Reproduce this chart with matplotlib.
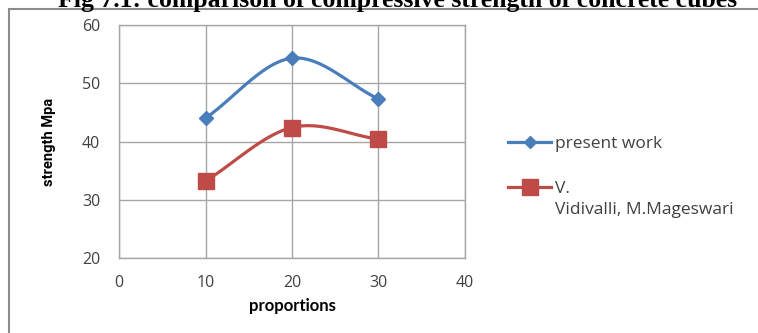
import matplotlib

matplotlib.use("Agg")
import matplotlib.pyplot as plt
import numpy as np
from matplotlib.lines import Line2D
from matplotlib.patches import Rectangle

proportions = [10, 20, 30]
present_work = [44.0, 54.3, 47.3]
vidivalli = [33.2, 42.4, 40.4]

x_ticks = [0, 10, 20, 30, 40]
y_ticks = [20, 30, 40, 50, 60]

title = "Fig 7.1: comparison of compressive strength of concrete cubes"
series_names = ["present work", "V.", "Vidivalli, M.Mageswari"]

BLUE = "#4A7EBB"
RED = "#BE4B48"
GRID = "#A6A6A6"
TEXT = "#404040"


def smooth(xs, ys, n=40):
    """Catmull-Rom curve through the points, like a spreadsheet 'smoothed line'."""
    xs = np.asarray(xs, float)
    ys = np.asarray(ys, float)
    px = np.concatenate([[2 * xs[0] - xs[1]], xs, [2 * xs[-1] - xs[-2]]])
    py = np.concatenate([[2 * ys[0] - ys[1]], ys, [2 * ys[-1] - ys[-2]]])
    out_x, out_y = [], []
    t = np.linspace(0, 1, n)
    for i in range(1, len(px) - 2):
        for p, out in ((px, out_x), (py, out_y)):
            p0, p1, p2, p3 = p[i - 1], p[i], p[i + 1], p[i + 2]
            seg = 0.5 * (2 * p1 + (-p0 + p2) * t
                         + (2 * p0 - 5 * p1 + 4 * p2 - p3) * t ** 2
                         + (-p0 + 3 * p1 - 3 * p2 + p3) * t ** 3)
            out.extend(seg)
    return np.array(out_x), np.array(out_y)


fig = plt.figure(figsize=(7.58, 3.33), dpi=100)
W, H = 758, 333

# outer chart frame, running off the right and bottom edges
fig.add_artist(Rectangle((9 / W, -0.1), 1.2, 1.1 - 9 / H, transform=fig.transFigure,
                         fill=False, edgecolor="#8C8C8C", linewidth=1.5))

# caption sits above the frame and is cut by the top edge
fig.text(398 / W, 1 - 7 / H, title, ha="center", va="baseline",
         fontsize=18.5, fontweight="bold", family="Liberation Serif", color="black")

ax = fig.add_axes([119 / W, 1 - 258 / H, (465 - 119) / W, (258 - 25) / H])
ax.set_xlim(0, 40)
ax.set_ylim(20, 60)
ax.set_xticks(x_ticks)
ax.set_yticks(y_ticks)
ax.grid(True, color=GRID, linewidth=1.0)
ax.set_axisbelow(True)
for s in ax.spines.values():
    s.set_color(GRID)
    s.set_linewidth(1.0)
ax.tick_params(length=0, labelsize=11.5, colors=TEXT, labelfontfamily="Open Sans")
ax.tick_params(axis="x", pad=12)
ax.tick_params(axis="y", pad=13.5)

sx, sy = smooth(proportions, present_work)
ax.plot(sx, sy, color=BLUE, linewidth=2.3, solid_capstyle="round")
ax.plot(proportions, present_work, linestyle="none", marker="D", markersize=7.5, color=BLUE)

sx, sy = smooth(proportions, vidivalli)
ax.plot(sx, sy, color=RED, linewidth=2.3, solid_capstyle="round")
ax.plot(proportions, vidivalli, linestyle="none", marker="s", markersize=11, color=RED)

ax.set_xlabel("proportions", fontsize=12, fontweight="bold", family="Lato",
              color="black", labelpad=5)
ax.set_ylabel("strength Mpa", fontsize=10.5, fontweight="bold", family="Roboto",
              color="black", labelpad=19)

# legend, drawn beside the plot area
for (color, marker, msize, ypx) in ((BLUE, "D", 6.5, 142), (RED, "s", 11, 187)):
    y = 1 - ypx / H
    fig.add_artist(Line2D([508 / W, 551 / W], [y, y], transform=fig.transFigure,
                          color=color, linewidth=2.3))
    fig.add_artist(Line2D([529.5 / W], [y], transform=fig.transFigure, color=color,
                          marker=marker, markersize=msize, linestyle="none"))
for name, ypx in zip(series_names, (142, 187, 208)):
    fig.text(555 / W, 1 - ypx / H, name, ha="left", va="center_baseline", fontsize=12.5,
             family="Open Sans", color=TEXT)

fig.savefig("out.png", dpi=100)
